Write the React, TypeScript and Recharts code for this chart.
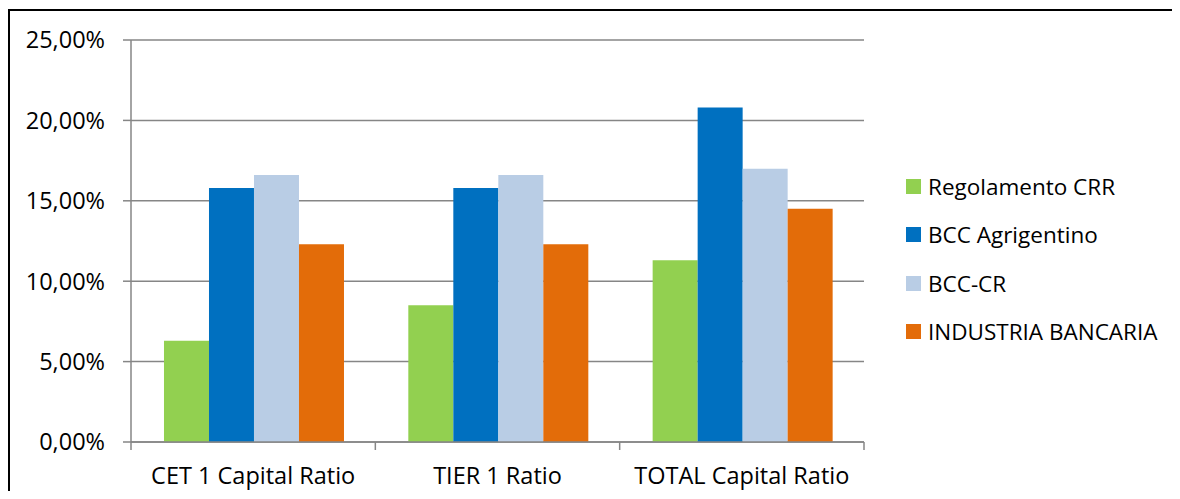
import React from 'react';
import { BarChart, Bar, XAxis, YAxis, CartesianGrid, Legend } from 'recharts';

const categories = ['CET 1 Capital Ratio', 'TIER 1 Ratio', 'TOTAL Capital Ratio'];
const regolamentoCRR = [6.3, 8.5, 11.3];
const bccAgrigentino = [15.8, 15.8, 20.8];
const bccCR = [16.6, 16.6, 17.0];
const industriaBancaria = [12.3, 12.3, 14.5];
const yTicks = [0, 5, 10, 15, 20, 25];

const seriesNames = ['Regolamento CRR', 'BCC Agrigentino', 'BCC-CR', 'INDUSTRIA BANCARIA'];
const seriesKeys = ['crr', 'agr', 'bcccr', 'ind'];
const seriesColors = ['#92D050', '#0070C0', '#B9CDE5', '#E36C09'];
const seriesValues = [regolamentoCRR, bccAgrigentino, bccCR, industriaBancaria];

const data = categories.map((name, i) => {
  const row: Record<string, string | number> = { name };
  seriesKeys.forEach((k, s) => {
    row[k] = seriesValues[s][i];
  });
  return row;
});

const GRID = '#868686';
const FONT = '"Open Sans", sans-serif';

const fmt = (v: number) => v.toFixed(2).replace('.', ',') + '%';

const XTick = (props: any) => {
  const { x, y, payload, index } = props;
  const half = payload && payload.offset ? payload.offset : 0;
  const axisY = y - 8;
  return (
    <g>
      <line x1={x - half} x2={x - half} y1={axisY} y2={axisY + 8} stroke={GRID} strokeWidth={1.5} />
      {index === categories.length - 1 && (
        <line x1={x + half} x2={x + half} y1={axisY} y2={axisY + 8} stroke={GRID} strokeWidth={1.5} />
      )}
      <text x={x} y={y + 34} textAnchor="middle" fontSize={23.5} fontFamily={FONT} fill="#000">
        {payload.value}
      </text>
    </g>
  );
};

const LegendContent = () => (
  <div style={{ fontFamily: FONT, fontSize: 22.5, color: '#000' }}>
    {seriesNames.map((n, i) => (
      <div key={n} style={{ height: 48.3, display: 'flex', alignItems: 'center', whiteSpace: 'nowrap' }}>
        <span style={{ display: 'inline-block', width: 15, height: 15, background: seriesColors[i], marginRight: 7 }} />
        <span>{n}</span>
      </div>
    ))}
  </div>
);

export default function App() {
  return (
    <div style={{ position: 'relative', width: 1164, height: 483, overflow: 'hidden' }}>
      <style>{'html,body{overflow:hidden;}'}</style>
      <div style={{ position: 'absolute', top: 1, left: 0, width: 1170, height: 2, background: '#000' }} />
      <div style={{ position: 'absolute', top: 1, left: 0, width: 2, height: 490, background: '#000' }} />
      <div style={{ position: 'absolute', top: 0, left: 0 }}>
        <BarChart
          width={1160}
          height={491}
          data={data}
          margin={{ top: 32, right: 304, bottom: 0, left: 0 }}
          barCategoryGap="13.5%"
          barGap={0}
          style={{ outline: 'none' }}
        >
          <CartesianGrid vertical={false} stroke={GRID} strokeWidth={1.5} />
          <XAxis
            dataKey="name"
            height={57}
            tickLine={false}
            tickSize={8}
            tickMargin={0}
            axisLine={{ stroke: GRID, strokeWidth: 1.5 }}
            tick={<XTick />}
            interval={0}
          />
          <YAxis
            width={123}
            domain={[0, 25]}
            ticks={yTicks}
            tickFormatter={fmt}
            tickSize={8}
            tickMargin={18}
            tickLine={{ stroke: GRID, strokeWidth: 1.5 }}
            axisLine={{ stroke: GRID, strokeWidth: 1.5 }}
            tick={{ fontSize: 23.5, fontFamily: FONT, fill: '#000' }}
          />
          <Legend
            layout="horizontal"
            align="center"
            verticalAlign="middle"
            content={<LegendContent />}
            wrapperStyle={{ position: 'absolute', left: 898, top: 154.5, width: 262, height: 194 }}
          />
          {seriesKeys.map((k, i) => (
            <Bar key={k} dataKey={k} name={seriesNames[i]} fill={seriesColors[i]} isAnimationActive={false} />
          ))}
        </BarChart>
      </div>
    </div>
  );
}
